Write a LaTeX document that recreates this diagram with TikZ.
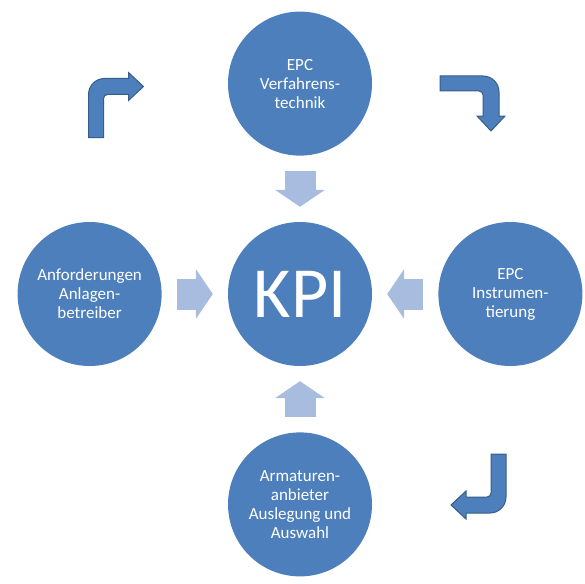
\documentclass[tikz,border=0pt]{standalone}
\usepackage{fontspec}
\setmainfont{Carlito}
\usetikzlibrary{arrows.meta,positioning}

\definecolor{kreisblau}{RGB}{76,127,188}
\definecolor{hellblau}{RGB}{167,188,222}
\definecolor{randblau}{RGB}{56,93,138}

\begin{document}
\begin{tikzpicture}[
  x=1pt,y=1pt,
  font=\fontsize{17}{19}\selectfont,
  kreis/.style={circle,fill=kreisblau,text=white,minimum size=144pt,inner sep=0pt,align=center},
  blockpfeil/.style={draw=hellblau,line width=31pt,shorten <=15pt,shorten >=15pt,
    -{Triangle[length=17pt,width=50pt,line width=0pt]}},
  knick/.style={fill=kreisblau,draw=randblau,line width=1pt},
  node distance=66pt
]
\useasboundingbox (0,0) rectangle (585,-583);
\node[kreis,font=\fontsize{72}{76}\selectfont] (kpi) at (300,-294) {KPI};
\node[kreis,above=of kpi] (oben) {EPC\\Verfahrens-\\technik};
\node[kreis,left=of kpi] (links) {Anforderungen\\Anlagen-\\betreiber};
\node[kreis,right=of kpi] (rechts) {EPC\\Instrumen-\\tierung};
\node[kreis,below=of kpi] (unten) {Armaturen-\\anbieter\\Auslegung und\\Auswahl};
% helle Pfeile zur Mitte
\foreach \n in {oben,links,rechts,unten}
  \draw[blockpfeil] (\n) -- (kpi);
% Kreislauf aussen
\foreach \px/\py/\rot in {115.5/105.5/0, 472/103/-90, 479/486/180}
  \draw[knick,shift={(\px,-\py)},rotate=\rot]
    (-27,-32) -- (-27,11) arc[start angle=180,end angle=90,radius=16] -- (13,27) -- (13,33)
    -- (28,19) -- (13,5) -- (13,11) -- (-8,11) arc[start angle=90,end angle=180,radius=4]
    -- (-12,-32) -- cycle;
\end{tikzpicture}
\end{document}
